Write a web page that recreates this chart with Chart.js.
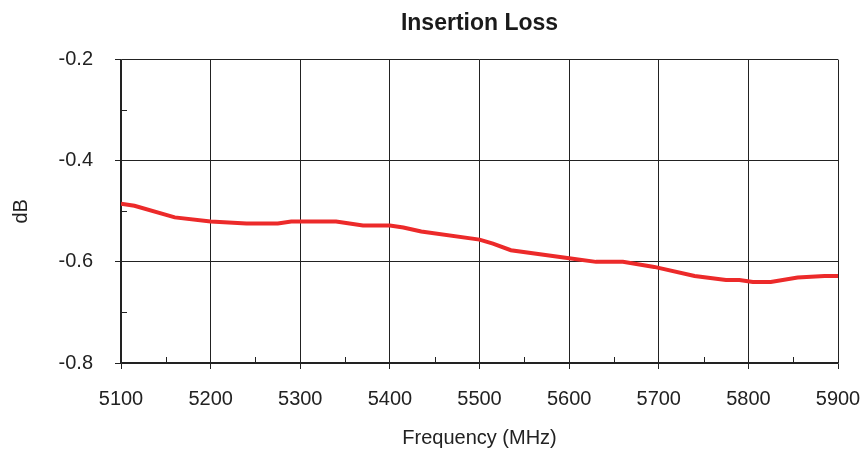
<!DOCTYPE html>
<html>
<head>
<meta charset="utf-8">
<script src="https://cdn.jsdelivr.net/npm/chart.js@4"></script>
<style>
  html, body { margin: 0; padding: 0; background: #fff; }
  #wrap { width: 862px; height: 451px; }
</style>
</head>
<body>
<div id="wrap"><canvas id="c" width="862" height="451"></canvas></div>
<script>
const frequencies = [5100, 5115, 5160, 5200, 5240, 5275, 5290, 5340, 5370, 5400, 5415, 5435, 5500, 5515, 5535, 5600, 5630, 5660, 5695, 5740, 5775, 5790, 5805, 5825, 5855, 5885, 5900];
const lossValues  = [-0.485, -0.489, -0.512, -0.520, -0.524, -0.524, -0.520, -0.520, -0.528, -0.528, -0.532, -0.540, -0.556, -0.564, -0.577, -0.593, -0.600, -0.600, -0.610, -0.628, -0.636, -0.636, -0.640, -0.640, -0.631, -0.628, -0.628];
const xTicks = [5100, 5200, 5300, 5400, 5500, 5600, 5700, 5800, 5900];
const yTicks = [-0.8, -0.6, -0.4, -0.2];
const xMinor = [5150, 5250, 5350, 5450, 5550, 5650, 5750, 5850];
const yMinor = [-0.7, -0.5, -0.3];

const FONT = "'Liberation Sans', Arial, Helvetica, sans-serif";
const GRID = '#222';

const minorTicks = {
  id: 'minorTicks',
  beforeDatasetsDraw(chart) {
    const { ctx, chartArea, scales } = chart;
    ctx.save();
    ctx.strokeStyle = GRID;
    ctx.lineWidth = 1;
    ctx.beginPath();
    yMinor.forEach(v => {
      const y = Math.round(scales.y.getPixelForValue(v)) + 0.5;
      ctx.moveTo(chartArea.left, y);
      ctx.lineTo(chartArea.left + 6, y);
    });
    xMinor.forEach(v => {
      const x = Math.round(scales.x.getPixelForValue(v)) + 0.5;
      ctx.moveTo(x, chartArea.bottom);
      ctx.lineTo(x, chartArea.bottom - 6);
    });
    ctx.stroke();
    ctx.restore();
  }
};

new Chart(document.getElementById('c'), {
  type: 'line',
  data: {
    datasets: [{
      data: frequencies.map((f, i) => ({ x: f, y: lossValues[i] })),
      borderColor: '#ec2a2a',
      borderWidth: 4,
      pointRadius: 0,
      tension: 0,
      fill: false
    }]
  },
  options: {
    responsive: false,
    animation: false,
    devicePixelRatio: 1,
    layout: { padding: { left: 0, right: 24, top: 0, bottom: 0 } },
    plugins: {
      legend: { display: false },
      tooltip: { enabled: false },
      title: {
        display: true,
        fullSize: false,
        text: 'Insertion Loss',
        color: '#1a1a1a',
        font: { family: FONT, size: 23, weight: 'bold' },
        padding: { top: 10, bottom: 22 }
      }
    },
    scales: {
      x: {
        type: 'linear',
        min: 5100,
        max: 5900,
        afterBuildTicks: s => { s.ticks = xTicks.map(v => ({ value: v })); },
        afterFit: s => { s.height = 88; s.paddingRight = 0; },
        ticks: {
          color: '#222',
          font: { family: FONT, size: 20 },
          padding: 18,
          maxRotation: 0,
          callback: v => String(v)
        },
        grid: { color: GRID, lineWidth: 1, tickLength: 6, drawTicks: true },
        border: { color: GRID, width: 1.5 },
        title: {
          display: true,
          text: 'Frequency (MHz)',
          color: '#222',
          font: { family: FONT, size: 20 },
          padding: { top: 0, bottom: 1 }
        }
      },
      y: {
        type: 'linear',
        min: -0.8,
        max: -0.2,
        afterBuildTicks: s => { s.ticks = yTicks.map(v => ({ value: v })); },
        afterFit: s => { s.width = 121; },
        ticks: {
          color: '#222',
          font: { family: FONT, size: 20 },
          padding: 22,
          callback: v => v.toFixed(1)
        },
        grid: { color: GRID, lineWidth: 1, tickLength: 6, drawTicks: true },
        border: { color: GRID, width: 1.5 },
        title: {
          display: true,
          text: 'dB',
          color: '#222',
          font: { family: FONT, size: 20 },
          padding: { top: 9, bottom: 0 }
        }
      }
    }
  },
  plugins: [minorTicks]
});
</script>
</body>
</html>
